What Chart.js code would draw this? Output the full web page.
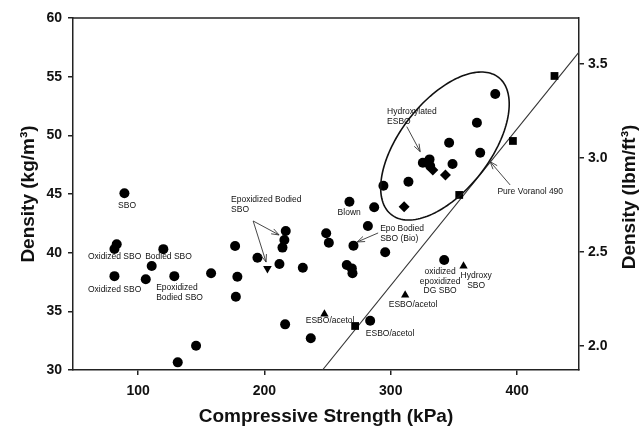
<!DOCTYPE html>
<html><head><meta charset="utf-8">
<script src="https://cdn.jsdelivr.net/npm/chart.js@4/dist/chart.umd.min.js"></script>
<style>html,body{margin:0;padding:0;background:#fff}#wrap{width:642px;height:426px}</style>
</head><body><div id="wrap"><canvas id="c" width="642" height="426"></canvas></div>
<script>
// ---- data (kPa, kg/m3) ----
const circleX = [89.2, 83.1, 81.3, 120.0, 110.8, 81.3, 106.1, 128.7, 157.8, 176.8, 178.6, 177.4,
  216.9, 215.8, 214.3, 248.9, 251.0, 194.5, 211.9, 230.4, 267.3, 286.9, 281.9, 270.5, 295.6,
  265.2, 269.2, 269.7, 216.4, 236.7, 283.7, 342.3, 131.4, 145.9, 382.7, 368.2, 346.2, 370.8,
  348.9, 325.4, 330.7, 331.2, 314.0, 294.2];
const circleY = [45.06, 40.71, 40.31, 40.3, 38.86, 38.0, 37.73, 38.0, 38.24, 40.57, 37.95, 36.25,
  41.85, 41.08, 40.43, 41.65, 40.85, 39.57, 39.03, 38.72, 44.34, 43.87, 42.27, 40.6, 40.03,
  38.95, 38.66, 38.24, 33.89, 32.7, 34.2, 39.38, 30.65, 32.07, 53.52, 51.08, 49.37, 48.52,
  47.56, 47.67, 47.95, 47.39, 46.05, 45.71];
const diamondX = [333.3, 343.3, 310.6];
const diamondY = [47.05, 46.62, 43.92];
const squareX = [271.8, 354.2, 396.7, 429.6];
const squareY = [33.75, 44.92, 49.52, 55.06];
const triUpX = [247.5, 311.4, 357.6];
const triUpY = [34.77, 36.39, 38.86];
const triDownX = [202.4];
const triDownY = [38.66];
const fitLineX = [246, 449];
const fitLineY = [30, 57.1];

// ---- axes ----
const xTicks = [100, 200, 300, 400];
const yTicks = [30, 35, 40, 45, 50, 55, 60];
const y2Ticks = [2.0, 2.5, 3.0, 3.5];
const KG_TO_LBFT3 = 0.0624280;

// ---- annotations (data coords) ----
const noteText = ['SBO', 'Oxidized SBO', 'Bodied SBO', 'Oxidized SBO', 'Epoxidized\nBodied SBO',
  'Epoxidized Bodied\nSBO', 'Blown', 'Epo Bodied\nSBO (Bio)', 'Hydroxylated\nESBO', 'Pure Voranol 490',
  'ESBO/acetol', 'ESBO/acetol', 'ESBO/acetol', 'oxidized\nepoxidized\nDG SBO', 'Hydroxy\nSBO'];
const noteX = [91.3, 81.4, 124.1, 81.4, 114.3, 173.6, 267.1, 291.6, 297.1, 410.4, 252.0, 299.5, 317.7, 339.1, 367.6];
const noteY = [43.98, 39.63, 39.63, 36.82, 36.99, 44.49, 43.38, 42.02, 51.99, 45.17, 34.18, 33.07, 35.54, 38.35, 38.01];
const noteAlign = ['center','center','center','center','left','left','center','left','left','center','center','center','center','center','center'];
const arrowFromX = [191.1, 191.1, 290.0, 312.7, 394.5];
const arrowFromY = [42.70, 42.70, 41.68, 50.74, 45.77];
const arrowToX = [211.6, 201.3, 273.4, 323.3, 378.7];
const arrowToY = [41.51, 39.20, 40.91, 48.61, 47.75];
const ellCenter = [342.9, 49.09];
const ellA = [42.4, 5.85];
const ellB = [28.1, -2.36];

const pts = (xs, ys) => xs.map((x, i) => ({x: x, y: ys[i]}));
const FONT = "'Liberation Sans', Arial, sans-serif";

const annot = {
  id: 'annot',
  afterDatasetsDraw(chart) {
    const ctx = chart.ctx, sx = chart.scales.x, sy = chart.scales.y, ca = chart.chartArea;
    ctx.save();
    // top frame line
    ctx.strokeStyle = '#222'; ctx.lineWidth = 1.5;
    ctx.beginPath(); ctx.moveTo(ca.left, ca.top); ctx.lineTo(ca.right, ca.top); ctx.stroke();
    // ellipse
    ctx.lineWidth = 1.6; ctx.strokeStyle = '#111';
    ctx.beginPath();
    for (let i = 0; i <= 160; i++) {
      const t = i / 160 * Math.PI * 2;
      const dx = ellCenter[0] + ellA[0] * Math.cos(t) + ellB[0] * Math.sin(t);
      const dy = ellCenter[1] + ellA[1] * Math.cos(t) + ellB[1] * Math.sin(t);
      const px = sx.getPixelForValue(dx), py = sy.getPixelForValue(dy);
      if (i === 0) ctx.moveTo(px, py); else ctx.lineTo(px, py);
    }
    ctx.closePath(); ctx.stroke();
    // arrows
    ctx.lineWidth = 0.9; ctx.strokeStyle = '#333';
    for (let i = 0; i < arrowFromX.length; i++) {
      const x1 = sx.getPixelForValue(arrowFromX[i]), y1 = sy.getPixelForValue(arrowFromY[i]);
      const x2 = sx.getPixelForValue(arrowToX[i]), y2 = sy.getPixelForValue(arrowToY[i]);
      ctx.beginPath(); ctx.moveTo(x1, y1); ctx.lineTo(x2, y2); ctx.stroke();
      const ang = Math.atan2(y2 - y1, x2 - x1), L = 8;
      ctx.beginPath();
      ctx.moveTo(x2 - L * Math.cos(ang - 0.35), y2 - L * Math.sin(ang - 0.35));
      ctx.lineTo(x2, y2);
      ctx.lineTo(x2 - L * Math.cos(ang + 0.35), y2 - L * Math.sin(ang + 0.35));
      ctx.stroke();
    }
    // notes
    ctx.fillStyle = '#111';
    ctx.font = "8.5px " + FONT;
    ctx.textBaseline = 'middle';
    for (let i = 0; i < noteText.length; i++) {
      const px = sx.getPixelForValue(noteX[i]), py = sy.getPixelForValue(noteY[i]);
      ctx.textAlign = noteAlign[i];
      noteText[i].split('\n').forEach((ln, k) => ctx.fillText(ln, px, py + k * 9.5));
    }
    // right axis title (reads bottom to top)
    ctx.font = "bold 19px " + FONT;
    ctx.textAlign = 'center'; ctx.textBaseline = 'middle';
    ctx.translate(630, (ca.top + ca.bottom) / 2 + 3);
    ctx.rotate(-Math.PI / 2);
    ctx.fillText('Density (lbm/ft\u00B3)', 0, 0);
    ctx.restore();
  }
};

const gridOpt = {drawOnChartArea: false, drawTicks: true, tickLength: 5, color: '#222', lineWidth: 1.5};
const borderOpt = {display: true, color: '#222', width: 1.5};
const tickFont = {family: FONT, size: 14, weight: 'bold'};

new Chart(document.getElementById('c'), {
  type: 'scatter',
  data: {
    datasets: [
      {label: 'SBO foams', data: pts(circleX, circleY), pointStyle: 'circle', pointRadius: 5, backgroundColor: '#000', borderColor: '#000', borderWidth: 0},
      {label: 'diamonds', data: pts(diamondX, diamondY), pointStyle: 'rectRot', pointRadius: 5.5, backgroundColor: '#000', borderColor: '#000', borderWidth: 0},
      {label: 'squares', data: pts(squareX, squareY), pointStyle: 'rect', pointRadius: 5.5, backgroundColor: '#000', borderColor: '#000', borderWidth: 0},
      {label: 'triangles', data: pts(triUpX, triUpY), pointStyle: 'triangle', pointRadius: 4.8, backgroundColor: '#000', borderColor: '#000', borderWidth: 0},
      {label: 'triangle down', data: pts(triDownX, triDownY), pointStyle: 'triangle', rotation: 180, pointRadius: 5, backgroundColor: '#000', borderColor: '#000', borderWidth: 0},
      {type: 'line', label: 'Pure Voranol 490', data: pts(fitLineX, fitLineY), borderColor: '#333', borderWidth: 1.1, pointRadius: 0, fill: false, showLine: true}
    ]
  },
  options: {
    responsive: false, animation: false, devicePixelRatio: 1,
    layout: {padding: {top: 18, left: 0, right: 0, bottom: 0}},
    plugins: {legend: {display: false}, tooltip: {enabled: false}},
    scales: {
      x: {
        type: 'linear', position: 'bottom', min: 48.5, max: 449,
        afterBuildTicks: s => { s.ticks = xTicks.map(v => ({value: v})); },
        afterFit: s => { s.height = 56; },
        grid: gridOpt, border: borderOpt,
        ticks: {font: tickFont, color: '#111', padding: 8, maxRotation: 0, autoSkip: false},
        title: {display: true, text: 'Compressive Strength (kPa)', color: '#111',
          font: {family: FONT, size: 19, weight: 'bold', lineHeight: 1}, padding: {top: 0, bottom: 0}}
      },
      y: {
        type: 'linear', position: 'left', min: 30, max: 60,
        afterBuildTicks: s => { s.ticks = yTicks.map(v => ({value: v})); },
        afterFit: s => { s.width = 73; },
        grid: gridOpt, border: borderOpt,
        ticks: {font: tickFont, color: '#111', padding: 6, autoSkip: false},
        title: {display: true, text: 'Density (kg/m\u00B3)', color: '#111',
          font: {family: FONT, size: 19, weight: 'bold', lineHeight: 1}, padding: {top: 19, bottom: 0}}
      },
      y2: {
        type: 'linear', position: 'right', min: 30 * KG_TO_LBFT3, max: 60 * KG_TO_LBFT3,
        afterBuildTicks: s => { s.ticks = y2Ticks.map(v => ({value: v})); },
        afterFit: s => { s.width = 63; },
        grid: gridOpt, border: borderOpt,
        ticks: {font: tickFont, color: '#111', padding: 4, autoSkip: false, callback: v => Number(v).toFixed(1)}
      }
    }
  },
  plugins: [annot]
});
</script>
</body></html>
